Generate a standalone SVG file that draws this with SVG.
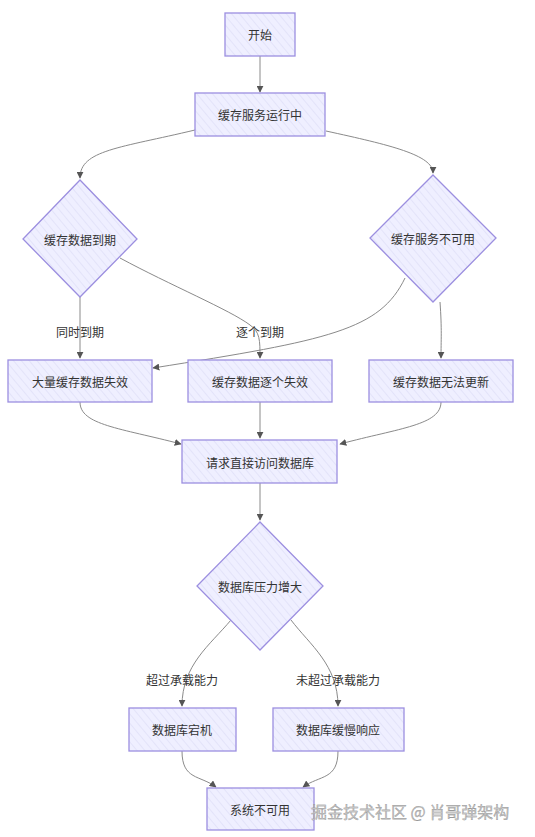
<svg xmlns="http://www.w3.org/2000/svg" width="535" height="837" viewBox="0 0 535 837">
<defs>
<pattern id="hatch" patternUnits="userSpaceOnUse" width="6" height="6" patternTransform="rotate(-40)">
<rect width="6" height="6" fill="#EFEFFF"/>
<line x1="0" y1="0" x2="0" y2="6" stroke="#DCDCF6" stroke-width="1.2"/>
</pattern>
<marker id="arr" viewBox="0 0 10 10" refX="9" refY="5" markerWidth="7" markerHeight="7" orient="auto-start-reverse" markerUnits="userSpaceOnUse">
<path d="M0,0 L10,5 L0,10 z" fill="#555"/>
</marker>
</defs>
<style>
.n rect,.n polygon{fill:url(#hatch);stroke:#9C8FE0;stroke-width:1.3}
.n text,.lbl{font-family:"Noto Sans CJK SC","Liberation Sans",sans-serif;font-size:12px;fill:#333;text-anchor:middle;dominant-baseline:central}
#edges path{fill:none;stroke:#8a8a8a;stroke-width:1;marker-end:url(#arr)}
.wm{font-family:"Noto Sans CJK SC","Liberation Sans",sans-serif;font-size:16px;fill:#c4c4c4;stroke:#777;stroke-width:0.25}
</style>
<rect width="535" height="837" fill="#fff"/>
<g id="edges">
<path d="M260,56 L260,92"/>
<path d="M195,130 C120,148 80,150 80,178"/>
<path d="M326,131 C390,145 433,155 433,173"/>
<path d="M80,297 L80,358"/>
<path d="M120,258 C170,285 230,310 250,325 C260,332 260,340 260,358"/>
<path d="M405,278 C380,330 330,340 153,368"/>
<path d="M440,302 C442,330 441,340 441,358"/>
<path d="M80,402 C80,425 120,428 181,444"/>
<path d="M260,402 L260,438"/>
<path d="M441,402 C441,425 400,428 340,444"/>
<path d="M260,483 L260,520"/>
<path d="M231,620 C210,645 182,665 182,706"/>
<path d="M291,620 C310,645 338,665 338,706"/>
<path d="M182,751 C182,780 200,775 216,787"/>
<path d="M338,751 C338,780 320,775 303,787"/>
</g>
<g id="edge-labels">
<text class="lbl" x="80" y="331">同时到期</text>
<text class="lbl" x="260" y="331">逐个到期</text>
<text class="lbl" x="182" y="679">超过承载能力</text>
<text class="lbl" x="338" y="679">未超过承载能力</text>
</g>
<g id="start" class="n"><rect x="225" y="13" width="70" height="43"/><text x="260" y="34">开始</text></g>
<g id="running" class="n"><rect x="195" y="93" width="130" height="43"/><text x="260" y="114">缓存服务运行中</text></g>
<g id="expire" class="n"><polygon points="80,180 137,239 80,297 23,239"/><text x="80" y="239">缓存数据到期</text></g>
<g id="unavail" class="n"><polygon points="433,175 496,238 433,302 370,238"/><text x="433" y="238">缓存服务不可用</text></g>
<g id="mass" class="n"><rect x="8" y="360" width="144" height="42"/><text x="80" y="381">大量缓存数据失效</text></g>
<g id="onebyone" class="n"><rect x="188" y="360" width="144" height="42"/><text x="260" y="381">缓存数据逐个失效</text></g>
<g id="noupdate" class="n"><rect x="369" y="360" width="144" height="42"/><text x="441" y="381">缓存数据无法更新</text></g>
<g id="direct" class="n"><rect x="182" y="440" width="155" height="43"/><text x="260" y="462">请求直接访问数据库</text></g>
<g id="pressure" class="n"><polygon points="260,522 323,586 260,650 197,586"/><text x="260" y="586">数据库压力增大</text></g>
<g id="down" class="n"><rect x="129" y="708" width="107" height="43"/><text x="182" y="729">数据库宕机</text></g>
<g id="slow" class="n"><rect x="273" y="708" width="131" height="43"/><text x="338" y="729">数据库缓慢响应</text></g>
<g id="sysdown" class="n"><rect x="207" y="788" width="107" height="42"/><text x="260" y="809">系统不可用</text></g>
<text class="wm" x="311" y="811" dominant-baseline="central">掘金技术社区 @ 肖哥弹架构</text>
</svg>
